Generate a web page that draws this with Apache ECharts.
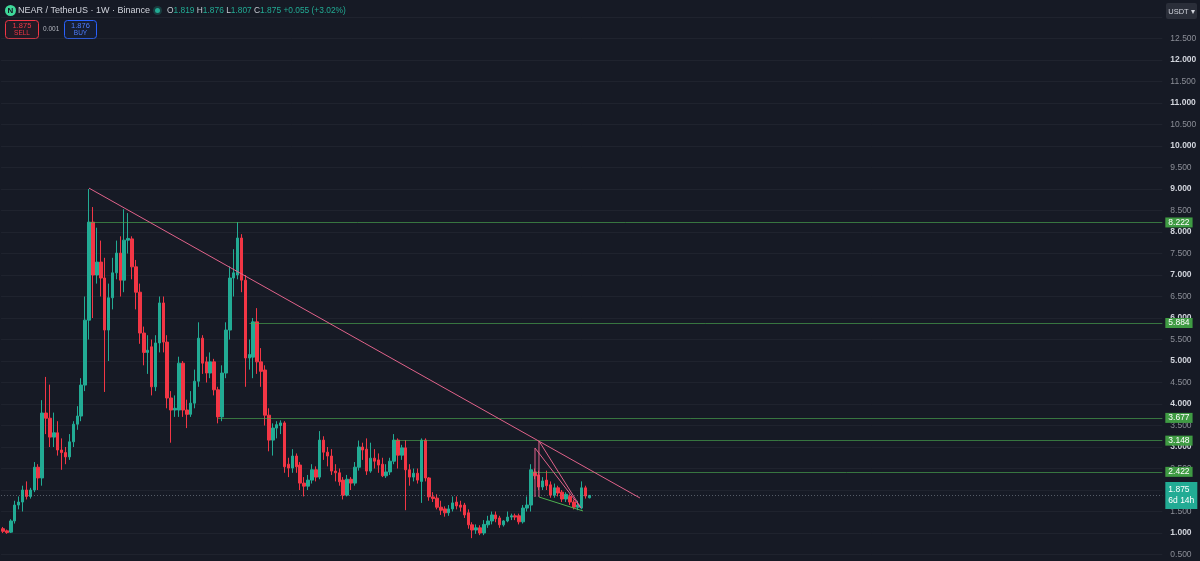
<!DOCTYPE html>
<html><head><meta charset="utf-8">
<script src="https://cdn.jsdelivr.net/npm/echarts/dist/echarts.min.js"></script>
<style>html,body{margin:0;padding:0;background:#161a25;}#c{width:1200px;height:561px;}</style>
</head><body><div id="c"></div>
<script>
// Weekly NEAR/USDT candles
const opens = [1.10,1.05,1.02,1.28,1.65,1.72,2.00,1.85,2.00,2.53,2.28,3.79,3.67,3.23,3.33,2.93,2.87,2.77,3.12,3.53,3.72,4.44,5.95,8.23,7.00,7.30,6.93,5.72,6.47,7.05,7.51,6.88,7.81,7.84,7.19,6.60,5.65,5.20,5.33,4.40,5.42,6.35,5.44,4.14,3.86,3.86,4.95,3.86,3.76,4.02,4.53,5.53,4.98,4.72,4.98,4.33,3.70,4.72,5.72,6.93,7.00,7.86,6.88,5.07,5.09,5.91,4.98,4.79,3.74,3.16,3.44,3.50,3.56,2.60,2.51,2.79,2.58,2.16,2.09,2.23,2.47,2.30,3.16,2.88,2.79,2.44,2.40,2.23,1.88,2.25,2.16,2.53,3.00,2.95,2.44,2.74,2.70,2.60,2.33,2.42,2.67,3.16,2.81,2.98,2.47,2.30,2.39,2.20,3.16,2.28,1.84,1.81,1.60,1.56,1.47,1.56,1.72,1.65,1.65,1.47,1.19,1.07,1.12,1.00,1.19,1.28,1.42,1.35,1.19,1.28,1.37,1.40,1.40,1.26,1.58,1.65,2.42,2.35,2.07,2.23,2.12,1.88,2.05,1.95,1.79,1.85,1.72,1.60,1.58,2.05,1.819];
const highs = [1.14,1.08,1.32,1.75,1.85,2.10,2.20,2.05,2.65,2.60,4.09,4.63,4.45,3.80,3.60,3.20,3.00,3.30,3.60,3.95,4.60,6.50,9.00,8.58,8.10,7.80,7.40,6.80,7.40,7.80,7.90,8.53,8.44,7.90,7.35,6.80,5.80,5.60,5.50,5.60,6.50,6.50,5.60,4.30,4.20,5.10,5.00,4.10,4.30,4.80,5.90,5.60,5.10,5.20,5.05,4.40,4.90,5.90,7.20,7.60,8.23,7.95,7.00,5.50,6.00,6.23,5.30,4.90,3.90,3.55,3.60,3.62,3.60,2.75,2.95,2.85,2.65,2.30,2.35,2.60,2.55,3.37,3.25,3.00,2.95,2.60,2.50,2.30,2.35,2.30,2.65,3.15,3.10,3.20,3.10,2.95,2.85,2.75,2.60,2.75,3.30,3.20,3.05,3.16,2.60,2.50,2.50,3.20,3.20,2.30,1.95,1.90,1.75,1.62,1.65,1.85,1.85,1.75,1.70,1.55,1.25,1.20,1.18,1.30,1.40,1.50,1.50,1.40,1.30,1.50,1.45,1.45,1.45,1.65,1.85,2.60,2.50,2.45,2.30,2.45,2.20,2.15,2.10,2.00,1.95,1.90,1.78,1.75,2.20,2.10,1.876];
const lows = [1.00,0.98,1.00,1.22,1.55,1.50,1.78,1.80,1.95,2.00,2.10,3.30,3.00,3.00,2.80,2.47,2.60,2.70,3.00,3.40,3.60,4.30,5.50,6.00,6.80,6.50,4.28,5.00,6.20,6.90,6.50,6.60,7.50,6.90,6.20,5.40,4.90,4.70,4.20,4.30,5.20,5.20,3.90,3.10,3.70,3.70,3.70,3.44,3.70,3.90,4.40,4.70,4.50,4.60,4.20,3.55,3.60,4.60,5.50,6.50,6.90,6.60,4.40,4.80,4.60,4.70,4.40,3.50,2.90,2.80,3.20,3.30,2.40,2.30,2.40,2.40,2.00,1.85,2.00,2.15,2.20,2.25,2.70,2.55,2.35,2.20,2.10,1.78,1.85,2.00,2.10,2.45,2.70,2.35,2.40,2.50,2.40,2.30,2.28,2.35,2.60,2.50,2.70,1.53,2.10,2.20,2.15,1.70,2.20,1.75,1.72,1.55,1.42,1.38,1.40,1.50,1.55,1.50,1.35,1.10,0.88,0.98,0.95,0.95,1.12,1.20,1.25,1.12,1.15,1.25,1.30,1.30,1.20,1.22,1.50,1.50,2.25,2.00,2.00,2.00,1.82,1.82,1.85,1.72,1.72,1.65,1.55,1.53,1.55,1.80,1.807];
const closes = [1.04,1.01,1.28,1.65,1.72,2.00,1.85,2.00,2.53,2.28,3.79,3.67,3.23,3.33,2.93,2.87,2.77,3.12,3.53,3.72,4.44,5.95,8.23,7.00,7.30,6.93,5.72,6.47,7.05,7.51,6.88,7.81,7.85,7.19,6.60,5.65,5.20,5.25,4.40,5.42,6.35,5.44,4.14,3.86,3.90,4.95,3.86,3.76,4.02,4.53,5.53,4.95,4.72,4.98,4.33,3.70,4.72,5.72,6.93,7.05,7.86,6.88,5.07,5.15,5.91,4.98,4.76,3.74,3.16,3.44,3.52,3.56,2.54,2.51,2.79,2.54,2.16,2.09,2.23,2.47,2.30,3.16,2.88,2.79,2.44,2.40,2.19,1.88,2.25,2.16,2.53,3.00,2.93,2.44,2.74,2.67,2.58,2.33,2.42,2.67,3.16,2.81,2.98,2.47,2.30,2.39,2.23,3.16,2.28,1.84,1.80,1.60,1.53,1.47,1.56,1.70,1.63,1.60,1.42,1.19,1.07,1.12,1.00,1.20,1.28,1.42,1.33,1.19,1.28,1.37,1.40,1.37,1.26,1.58,1.65,2.47,2.33,2.07,2.21,2.10,1.88,2.05,1.93,1.79,1.90,1.72,1.60,1.65,2.05,1.86,1.875];
const emptyFutureWeeks = 146;
// Horizontal levels and where they start (candle index)
const levels = [8.222, 5.884, 3.677, 3.148, 2.422];
const levelStarts = [22, 63, 55, 100, 135];
const lastPrice = 1.875;
const lastPriceTag = '1.875\n6d 14h';
// Drawings in (candle index, price)
const trendLine = [[22.0, 9.02], [162.9, 1.814]];
const wedgePink = [
  [[136.06, 2.977], [136.06, 1.837]],
  [[137.08, 3.14], [137.08, 1.837]],
  [[136.06, 2.977], [147.83, 1.581]],
  [[137.08, 3.14], [147.83, 1.581]]
];
const wedgeGreen = [[137.08, 1.837], [148.34, 1.512]];
// Axis
const yMin = 0, yMax = 13.5, yStep = 0.5;

const N = opens.length + emptyFutureWeeks;
const categories = Array.from({length: N}, (_, i) => 'W' + (i + 1));
const candleData = opens.map((o, i) => [o, closes[i], lows[i], highs[i]]);

const UP = '#22ab94', DOWN = '#f23645', PINK = '#e0628a', LVL = 'rgba(76,175,80,0.62)';
const FONT = 'Liberation Sans';
const barW = 3.91;
const gridLeft = 3 - barW / 2;
const gridWidth = barW * N;

const chart = echarts.init(document.getElementById('c'), null, {renderer: 'canvas'});

const lineSeries = (pts, color) => ({
  type: 'line', xAxisIndex: 1, yAxisIndex: 0, data: pts, showSymbol: false, symbol: 'none',
  lineStyle: {color: color, width: 1}, silent: true, animation: false, z: 5
});

const series = [
  {
    type: 'candlestick', data: candleData, barWidth: 3, animation: false, z: 3,
    itemStyle: {color: UP, color0: DOWN, borderColor: UP, borderColor0: DOWN, borderWidth: 1}
  },
  Object.assign(lineSeries(trendLine, PINK), {
    markLine: {
      symbol: ['none', 'none'], silent: true, animation: false,
      data: levels.map((v, k) => [
        {coord: [levelStarts[k], v], lineStyle: {color: LVL, width: 1, type: 'solid'},
         label: {show: true, position: 'end', distance: 3, formatter: v.toFixed(3), color: '#ffffff',
                 backgroundColor: '#3f9b43', padding: [1, 3, 0, 3], fontSize: 8.5, fontFamily: FONT}},
        {coord: [N - 0.5, v]}
      ]).concat([[
        {coord: [-0.5, lastPrice], lineStyle: {color: 'rgba(140,150,160,0.55)', width: 1, type: [1, 2]},
         label: {show: true, position: 'end', distance: 3, formatter: lastPriceTag, color: '#ffffff',
                 backgroundColor: UP, padding: [3, 3, 2, 3], fontSize: 8.5, lineHeight: 11, fontFamily: FONT}},
        {coord: [N - 0.5, lastPrice]}
      ]])
    }
  })
];
wedgePink.forEach(seg => series.push(lineSeries(seg, PINK)));
series.push(lineSeries(wedgeGreen, '#4caf50'));

const txt = (x, y, text, fill, size, extra) => ({
  type: 'text', x: x, y: y, silent: true,
  style: Object.assign({text: text, fill: fill, fontSize: size, fontFamily: FONT, verticalAlign: 'middle'}, extra || {})
});

chart.setOption({
  backgroundColor: '#161a25',
  animation: false,
  grid: {left: gridLeft, width: gridWidth, top: 275 - (yMax - 7) * 43, height: (yMax - yMin) * 43,
         containLabel: false, outerBoundsMode: 'none'},
  xAxis: [
    {type: 'category', data: categories, boundaryGap: true, axisLine: {show: false}, axisTick: {show: false},
     axisLabel: {show: false}, splitLine: {show: false}},
    {type: 'value', min: -0.5, max: N - 0.5, show: false}
  ],
  yAxis: {
    type: 'value', position: 'right', min: yMin, max: yMax, interval: yStep, scale: false,
    axisLine: {show: false}, axisTick: {show: false},
    splitLine: {show: true, lineStyle: {color: 'rgba(60,64,76,0.25)', width: 1}},
    axisLabel: {
      margin: 8, fontFamily: FONT,
      formatter: v => (v >= 13 || v < 0.5) ? '' : (Math.abs(v - Math.round(v)) < 1e-9 ? '{b|' + v.toFixed(3) + '}' : '{n|' + v.toFixed(3) + '}'),
      rich: {b: {color: '#d1d4dc', fontSize: 8.5, fontWeight: 'bold', fontFamily: FONT},
             n: {color: '#8b8e97', fontSize: 8.5, fontFamily: FONT}}
    }
  },
  series: series,
  graphic: [
    {type: 'circle', shape: {cx: 10.5, cy: 10.5, r: 5.5}, style: {fill: '#3fd99a'}, silent: true},
    txt(10.5, 10.8, 'N', '#131722', 8, {fontWeight: 'bold', align: 'center'}),
    txt(18, 11, 'NEAR / TetherUS · 1W · Binance', '#d1d4dc', 9),
    {type: 'circle', shape: {cx: 157.5, cy: 10.5, r: 4.5}, style: {fill: 'rgba(34,171,148,0.25)'}, silent: true},
    {type: 'circle', shape: {cx: 157.5, cy: 10.5, r: 2.5}, style: {fill: UP}, silent: true},
    {type: 'text', x: 167, y: 11, silent: true, style: {
      text: '{l|O}{v|1.819} {l|H}{v|1.876} {l|L}{v|1.807} {l|C}{v|1.875} {v|+0.055 (+3.02%)}',
      verticalAlign: 'middle', fontFamily: FONT, fontSize: 8.4,
      rich: {l: {fill: '#c9ccd4', fontSize: 8.4, fontFamily: FONT}, v: {fill: UP, fontSize: 8.4, fontFamily: FONT}}
    }},
    {type: 'rect', shape: {x: 5.5, y: 20.5, width: 33, height: 18, r: 3}, style: {fill: 'rgba(242,54,69,0.06)', stroke: DOWN, lineWidth: 1}, silent: true},
    txt(22, 25.5, '1.875', DOWN, 7.5, {align: 'center'}),
    txt(22, 33.5, 'SELL', DOWN, 6.5, {align: 'center'}),
    txt(43, 29.5, '0.001', '#b2b5be', 6.5),
    {type: 'rect', shape: {x: 64.5, y: 20.5, width: 32, height: 18, r: 3}, style: {fill: 'rgba(41,98,255,0.06)', stroke: '#2962ff', lineWidth: 1}, silent: true},
    txt(80.5, 25.5, '1.876', '#4d7dff', 7.5, {align: 'center'}),
    txt(80.5, 33.5, 'BUY', '#4d7dff', 6.5, {align: 'center'}),
    {type: 'rect', shape: {x: 1166, y: 3, width: 31, height: 16, r: 2}, style: {fill: '#2a2e39'}, silent: true},
    txt(1181.5, 11.5, 'USDT ▾', '#d1d4dc', 7.5, {align: 'center'})
  ]
});
</script></body></html>
